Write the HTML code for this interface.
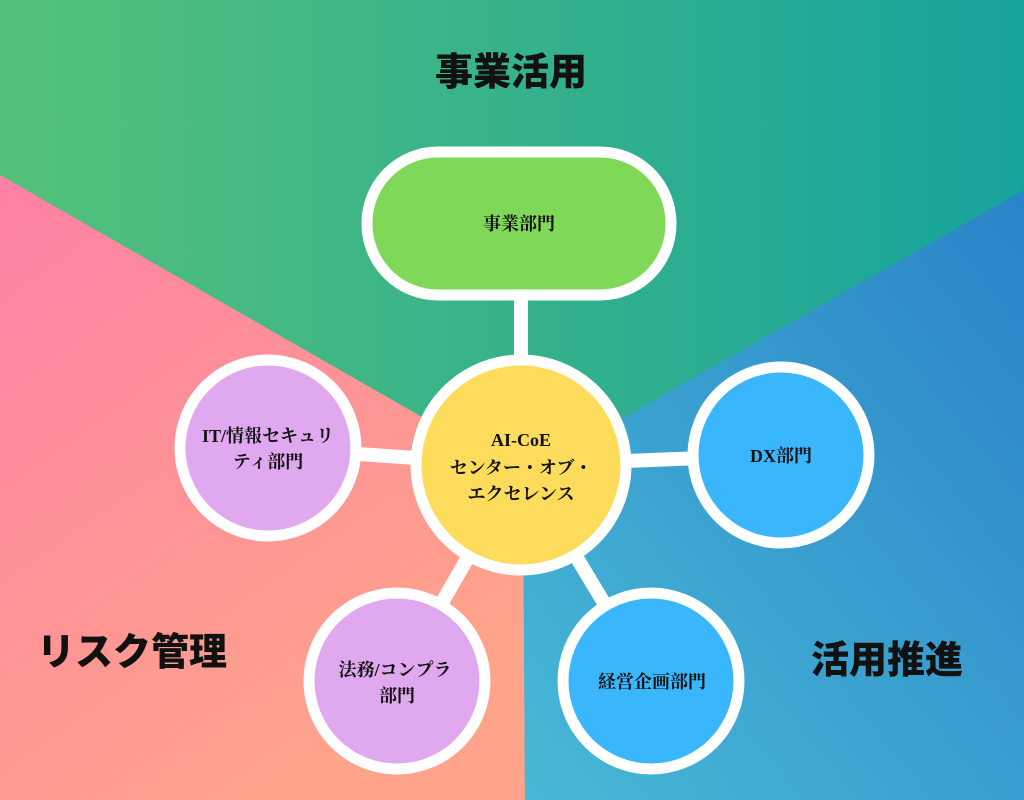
<!DOCTYPE html>
<html><head><meta charset="utf-8"><style>
html,body{margin:0;padding:0;width:1024px;height:800px;overflow:hidden}
svg{display:block}
.t{font-family:"Liberation Sans","Noto Sans CJK JP",sans-serif;font-weight:900;fill:#111}
.n{font-family:"Liberation Serif","Noto Serif CJK SC","Noto Sans CJK JP",serif;font-weight:bold;fill:#111;font-size:18px}
</style></head><body>
<svg width="1024" height="800" viewBox="0 0 1024 800" xmlns="http://www.w3.org/2000/svg">
<defs>
<linearGradient id="g" x1="0" y1="0" x2="1" y2="0"><stop offset="0" stop-color="#54c179"/><stop offset="1" stop-color="#17a39d"/></linearGradient>
<linearGradient id="p" x1="0" y1="0" x2="0.6" y2="1"><stop offset="0" stop-color="#fd80a5"/><stop offset="1" stop-color="#ffa48a"/></linearGradient>
<linearGradient id="b" x1="1" y1="0" x2="0" y2="1"><stop offset="0" stop-color="#2a84c8"/><stop offset="1" stop-color="#47b8d6"/></linearGradient>
</defs>
<rect width="1024" height="800" fill="url(#g)"/>
<polygon points="0,175 523,475 525,800 0,800" fill="url(#p)"/>
<polygon points="1024,190 523,475 525,800 1024,800" fill="url(#b)"/>
<g stroke="#fff" stroke-width="14">
<line x1="521" y1="290" x2="521" y2="370"/>
<line x1="268" y1="448" x2="521" y2="465"/>
<line x1="781" y1="455" x2="521" y2="465"/>
<line x1="397" y1="681" x2="521" y2="465"/>
<line x1="651" y1="681" x2="521" y2="465"/>
</g>
<rect x="367" y="152" width="304" height="143" rx="71" fill="#80d858" stroke="#fff" stroke-width="11"/>
<circle cx="521" cy="465" r="105" fill="#fddc5c" stroke="#fff" stroke-width="11"/>
<circle cx="268" cy="448" r="88" fill="#e0a8ee" stroke="#fff" stroke-width="11"/>
<circle cx="781" cy="455" r="88" fill="#3ab6fc" stroke="#fff" stroke-width="11"/>
<circle cx="397" cy="681" r="88" fill="#e0a8ee" stroke="#fff" stroke-width="11"/>
<circle cx="651" cy="681" r="88" fill="#3ab6fc" stroke="#fff" stroke-width="11"/>
<text class="t" x="511" y="85" font-size="38" text-anchor="middle">事業活用</text>
<text class="t" x="132" y="665" font-size="38" text-anchor="middle">リスク管理</text>
<text class="t" x="887" y="673" font-size="38" text-anchor="middle">活用推進</text>
<text class="n" x="519" y="230" text-anchor="middle">事業部門</text>
<text class="n" x="521" y="446" text-anchor="middle" font-size="22">AI-CoE</text>
<text class="n" x="521" y="474" text-anchor="middle">センター・オブ・</text>
<text class="n" x="521" y="500" text-anchor="middle">エクセレンス</text>
<text class="n" x="268" y="442" text-anchor="middle">IT/情報セキュリ</text>
<text class="n" x="268" y="468" text-anchor="middle">ティ部門</text>
<text class="n" x="781" y="462" text-anchor="middle">DX部門</text>
<text class="n" x="395" y="676" text-anchor="middle">法務/コンプラ</text>
<text class="n" x="397" y="702" text-anchor="middle">部門</text>
<text class="n" x="652" y="688" text-anchor="middle">経営企画部門</text>
</svg>
</body></html>
